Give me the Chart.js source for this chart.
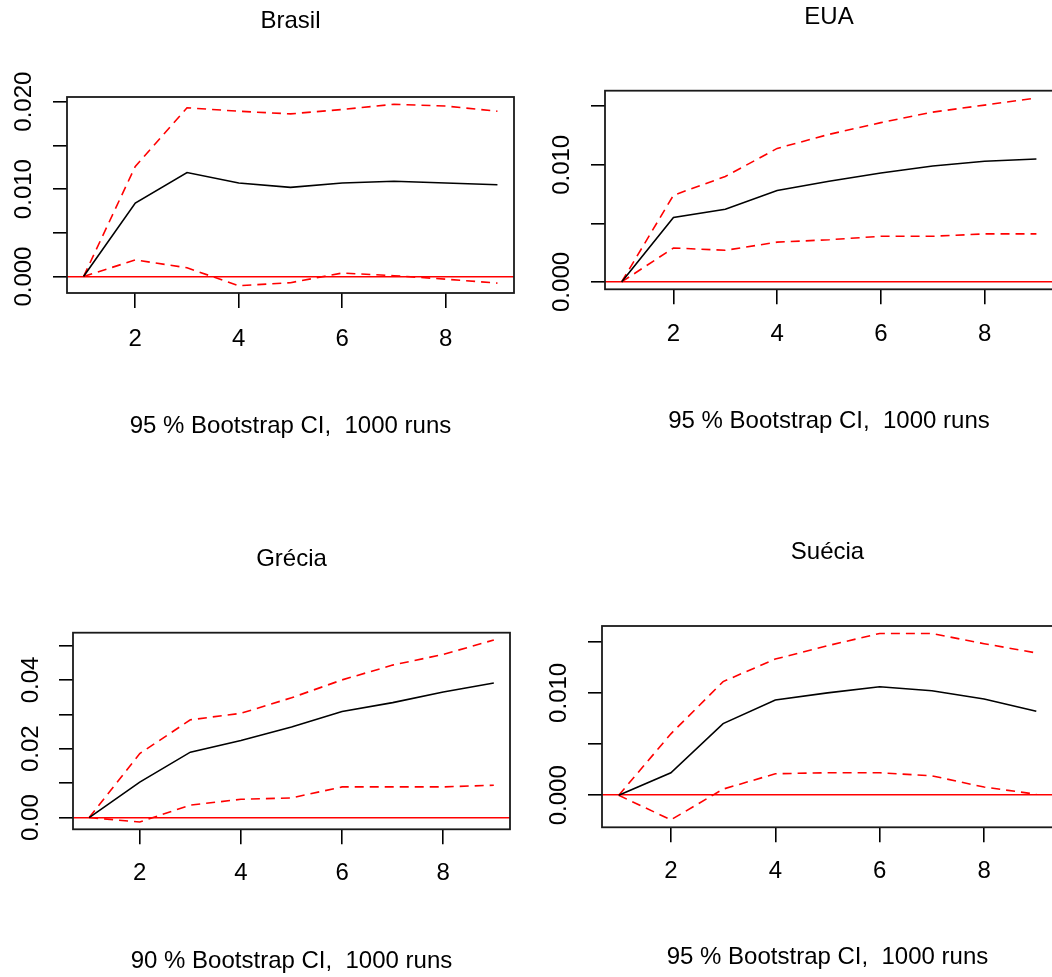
<!DOCTYPE html>
<html>
<head>
<meta charset="utf-8">
<script src="https://cdn.jsdelivr.net/npm/chart.js@4.4.1/dist/chart.umd.min.js"></script>
<style>
  html, body { margin: 0; padding: 0; background: #fff; overflow: hidden; width: 1052px; height: 977px; }
  canvas { position: absolute; }
</style>
</head>
<body>
<canvas id="brasil"></canvas>
<canvas id="eua"></canvas>
<canvas id="grecia"></canvas>
<canvas id="suecia"></canvas>
<script>
// horizontes do IRF
const horizon = [1, 2, 3, 4, 5, 6, 7, 8, 9];
const xTicks = [2, 4, 6, 8];

// Brasil
const brasilIrf   = [0, 0.0084, 0.0119, 0.0107, 0.0102, 0.0107, 0.0109, 0.0107, 0.0105];
const brasilUpper = [0, 0.0126, 0.0193, 0.0189, 0.0186, 0.0191, 0.0197, 0.0195, 0.0189];
const brasilLower = [0, 0.0019, 0.0010, -0.00105, -0.0007, 0.0004, 0.0001, -0.0003, -0.00075];
const brasilYTicks  = [0, 0.005, 0.010, 0.015, 0.020];
const brasilYLabels = ['0.000', '', '0.010', '', '0.020'];

// EUA
const euaIrf   = [0, 0.0055, 0.0062, 0.0078, 0.0086, 0.0093, 0.0099, 0.0103, 0.0105];
const euaUpper = [0, 0.0074, 0.0090, 0.0114, 0.0126, 0.0136, 0.0145, 0.0151, 0.0157];
const euaLower = [0, 0.0029, 0.0027, 0.0034, 0.0036, 0.0039, 0.0039, 0.0041, 0.0041];
const euaYTicks  = [0, 0.005, 0.010, 0.015];
const euaYLabels = ['0.000', '', '0.010', ''];

// Grécia
const greciaIrf   = [0, 0.0103, 0.0190, 0.0224, 0.0263, 0.0308, 0.0334, 0.0365, 0.0391];
const greciaUpper = [0, 0.0186, 0.0284, 0.0303, 0.0348, 0.0400, 0.0443, 0.0474, 0.0516];
const greciaLower = [0, -0.0013, 0.0036, 0.0053, 0.0057, 0.0089, 0.0089, 0.0089, 0.0094];
const greciaYTicks  = [0, 0.01, 0.02, 0.03, 0.04, 0.05];
const greciaYLabels = ['0.00', '', '0.02', '', '0.04', ''];

// Suécia
const sueciaIrf   = [0, 0.0022, 0.0070, 0.0093, 0.0100, 0.0106, 0.0102, 0.0094, 0.0082];
const sueciaUpper = [0, 0.0060, 0.0111, 0.0133, 0.0146, 0.0158, 0.0158, 0.0148, 0.0139];
const sueciaLower = [0, -0.0024, 0.0006, 0.0021, 0.0022, 0.0022, 0.0019, 0.0008, 0.0001];
const sueciaYTicks  = [0, 0.005, 0.010, 0.015];
const sueciaYLabels = ['0.000', '', '0.010', ''];

const captions = {
    brasil: '95 % Bootstrap CI,  1000 runs',
    eua: '95 % Bootstrap CI,  1000 runs',
    grecia: '90 % Bootstrap CI,  1000 runs',
    suecia: '95 % Bootstrap CI,  1000 runs'
};

const FONT_FAMILY = '"Liberation Sans", Arial, sans-serif';
const FONT_SIZE = 24;
const LH = FONT_SIZE * 1.2;
const X_TICK_LEN = 15;
const Y_TICK_LEN = 14;

Chart.defaults.font.family = FONT_FAMILY;
Chart.defaults.font.size = FONT_SIZE;
Chart.defaults.color = '#000';

function textWidth(str) {
    const c = document.createElement('canvas').getContext('2d');
    c.font = FONT_SIZE + 'px ' + FONT_FAMILY;
    return c.measureText(str).width;
}

// caixa do gráfico (box() do R)
const boxPlugin = {
    id: 'box',
    afterDatasetsDraw(chart) {
        const { ctx, chartArea: a } = chart;
        ctx.save();
        ctx.strokeStyle = '#1a1a1a';
        ctx.lineWidth = 1.8;
        ctx.strokeRect(a.left, a.top, a.right - a.left, a.bottom - a.top);
        ctx.restore();
    }
};

function toPoints(values) {
    return values.map((v, i) => ({ x: horizon[i], y: v }));
}

function makePanel(id, title, irf, lower, upper, yTicks, yLabels, lay) {
    const canvas = document.getElementById(id);
    const H = Math.round(lay.captionY + LH / 2);
    canvas.width = lay.width;
    canvas.height = H;
    canvas.style.left = lay.left + 'px';
    canvas.style.top = lay.top + 'px';

    const titlePadTop = lay.titleY - LH / 2;
    const titlePadBottom = lay.area.top - titlePadTop - LH;
    const xTickPad = lay.tickLabelY - lay.area.bottom - X_TICK_LEN - LH / 2;
    const widest = Math.max(...yLabels.map(textWidth));
    const yTickPad = lay.area.left - Y_TICK_LEN - lay.yLabelX - widest / 2;

    // limites como no R: faixa dos dados + 4%
    const all = irf.concat(lower, upper);
    const lo = Math.min(...all), hi = Math.max(...all);
    const xLo = Math.min(...horizon), xHi = Math.max(...horizon);
    const yPad = (hi - lo) * 0.04, xPad = (xHi - xLo) * 0.04;

    const red = '#ff0000';

    return new Chart(canvas.getContext('2d'), {
        type: 'line',
        data: {
            datasets: [
                { data: toPoints(irf), borderColor: '#000', borderWidth: 1.6 },
                { data: toPoints(lower), borderColor: red, borderWidth: 1.6, borderDash: [9, 6] },
                { data: toPoints(upper), borderColor: red, borderWidth: 1.6, borderDash: [9, 6] }
            ]
        },
        options: {
            responsive: false,
            animation: false,
            devicePixelRatio: 1,
            layout: { padding: { left: 0, top: 0, bottom: 0, right: lay.width - lay.area.right } },
            elements: { point: { radius: 0 }, line: { tension: 0 } },
            plugins: {
                legend: { display: false },
                tooltip: { enabled: false }
            },
            scales: {
                x: {
                    type: 'linear',
                    position: 'bottom',
                    min: xLo - xPad,
                    max: xHi + xPad,
                    afterBuildTicks: axis => { axis.ticks = xTicks.map(v => ({ value: v })); },
                    afterFit: axis => { axis.height = H - lay.area.bottom; },
                    border: { display: false },
                    grid: { drawOnChartArea: false, drawTicks: true, tickLength: X_TICK_LEN, color: '#000', lineWidth: 1.6 },
                    ticks: { padding: xTickPad, autoSkip: false, maxRotation: 0, callback: v => String(v) },
                    title: { display: true, text: captions[id], padding: { top: 0, bottom: 0 } }
                },
                x2: {
                    type: 'linear',
                    position: 'top',
                    display: true,
                    border: { display: false },
                    grid: { display: false, drawTicks: false },
                    ticks: { display: false },
                    title: { display: true, text: title, padding: { top: titlePadTop, bottom: titlePadBottom } }
                },
                y: {
                    type: 'linear',
                    min: lo - yPad,
                    max: hi + yPad,
                    afterBuildTicks: axis => { axis.ticks = yTicks.map(v => ({ value: v })); },
                    afterFit: axis => { axis.width = lay.area.left; },
                    border: { display: false },
                    grid: {
                        drawOnChartArea: true,
                        drawTicks: true,
                        tickLength: Y_TICK_LEN,
                        lineWidth: 1.6,
                        tickColor: '#000',
                        color: ctx => (ctx.tick && ctx.tick.value === 0) ? red : 'rgba(0,0,0,0)'
                    },
                    ticks: {
                        autoSkip: false,
                        minRotation: 90,
                        maxRotation: 90,
                        crossAlign: 'center',
                        padding: yTickPad,
                        callback: (v, i) => yLabels[i]
                    }
                }
            }
        },
        plugins: [boxPlugin]
    });
}

makePanel('brasil', 'Brasil', brasilIrf, brasilLower, brasilUpper, brasilYTicks, brasilYLabels, {
    left: 0, top: 0, width: 526,
    area: { left: 67, top: 97, right: 514, bottom: 293 },
    titleY: 21.8, tickLabelY: 339.5, captionY: 427, yLabelX: 24
});

makePanel('eua', 'EUA', euaIrf, euaLower, euaUpper, euaYTicks, euaYLabels, {
    left: 530, top: 0, width: 526,
    area: { left: 75, top: 90.7, right: 523, bottom: 289.3 },
    titleY: 17, tickLabelY: 334, captionY: 422, yLabelX: 32.5
});

makePanel('grecia', 'Grécia', greciaIrf, greciaLower, greciaUpper, greciaYTicks, greciaYLabels, {
    left: 0, top: 530, width: 526,
    area: { left: 73, top: 102.7, right: 510, bottom: 299.3 },
    titleY: 29.5, tickLabelY: 343, captionY: 432, yLabelX: 31
});

makePanel('suecia', 'Suécia', sueciaIrf, sueciaLower, sueciaUpper, sueciaYTicks, sueciaYLabels, {
    left: 530, top: 530, width: 526,
    area: { left: 72, top: 96, right: 523, bottom: 297.3 },
    titleY: 22, tickLabelY: 341, captionY: 428, yLabelX: 29
});
</script>
</body>
</html>
